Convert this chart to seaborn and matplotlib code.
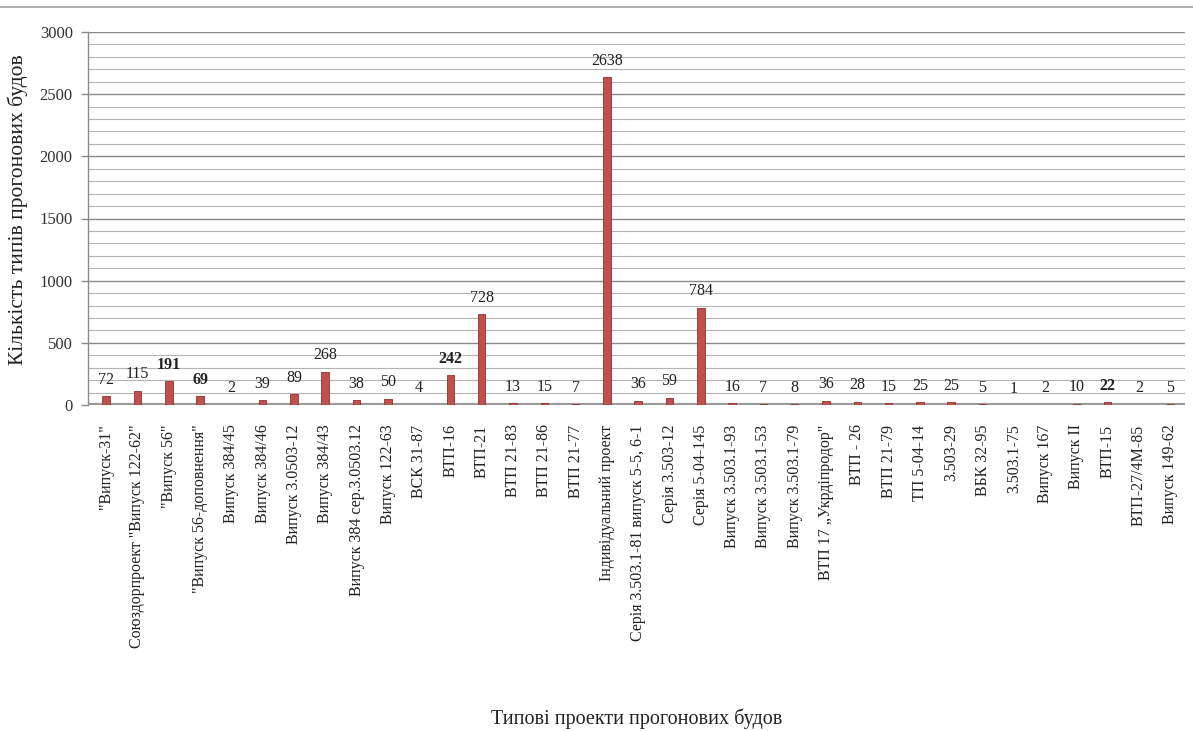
import matplotlib
matplotlib.use("Agg")
import matplotlib.pyplot as plt
import seaborn as sns
import numpy as np
from matplotlib.lines import Line2D

categories = [
    '"Випуск-31"', 'Союздорпроект "Випуск 122-62"', '"Випуск 56"', '"Випуск 56-доповнення"',
    'Випуск 384/45', 'Випуск 384/46', 'Випуск 3.0503-12', 'Випуск 384/43',
    'Випуск 384 сер.3.0503.12', 'Випуск 122-63', 'ВСК 31-87', 'ВТП-16', 'ВТП-21',
    'ВТП 21-83', 'ВТП 21-86', 'ВТП 21-77', 'Індивідуальний проект',
    'Серія 3.503.1-81 випуск 5-5, 6-1', 'Серія 3.503-12', 'Серія 5-04-145',
    'Випуск 3.503.1-93', 'Випуск 3.503.1-53', 'Випуск 3.503.1-79',
    'ВТП 17 „Укрдіпродор"', 'ВТП - 26', 'ВТП 21-79', 'ТП 5-04-14', '3.503-29',
    'ВБК 32-95', '3.503.1-75', 'Випуск 167', 'Випуск II', 'ВТП-15',
    'ВТП-27/4М-85', 'Випуск 149-62',
]
values = [72, 115, 191, 69, 2, 39, 89, 268, 38, 50, 4, 242, 728, 13, 15, 7, 2638,
          36, 59, 784, 16, 7, 8, 36, 28, 15, 25, 25, 5, 1, 2, 10, 22, 2, 5]
bold_labels = ['"Випуск 56"', '"Випуск 56-доповнення"', 'ВТП-16', 'ВТП-15']
yticks = [0, 500, 1000, 1500, 2000, 2500, 3000]

sns.set_theme(style="white")
plt.rcParams['font.family'] = ['Liberation Serif', 'DejaVu Serif']

fig = plt.figure(figsize=(11.93, 7.31), dpi=100)
ax = fig.add_axes([88/1193, 1-405/731, (1185-88)/1193, (405-32)/731])

# grid lines every 100
for v in range(100, 3001, 100):
    ax.axhline(v, color='#8a8a8a' if v % 500 == 0 else '#b4b4b4',
               lw=1.0 if v % 500 == 0 else 0.8, zorder=0)

sns.barplot(x=categories, y=values, color='#c0504d', width=0.24,
            edgecolor='#92302d', linewidth=0.6, saturation=1, ax=ax, zorder=3)

ax.axhline(0, color='#9a9a9a', lw=3, zorder=2)

cont = ax.containers[0]
texts = ax.bar_label(cont, labels=[str(v) for v in values], padding=6,
                     fontsize=11.5, color='#222222')
for t, c in zip(texts, categories):
    if c in bold_labels:
        t.set_fontweight('bold')

ax.set_ylim(0, 3000)
ax.set_xlim(-0.58, 34.47)
ax.set_yticks(yticks)
ax.set_yticklabels([str(v) for v in yticks], fontsize=12, color='#333333')
ax.set_xticks(range(len(categories)))
ax.set_xticklabels(categories, rotation=90, fontsize=11.5, color='#222222',
                   ha='center', va='top')
ax.tick_params(axis='x', length=0, pad=14)
ax.tick_params(axis='y', length=5, width=1, color='#8a8a8a', direction='out',
               left=True, pad=6)

for s in ['top', 'right', 'bottom']:
    ax.spines[s].set_visible(False)
ax.spines['left'].set_color('#8a8a8a')
ax.spines['left'].set_linewidth(1)

ax.set_xlabel('')
ax.set_ylabel('')
fig.text(18/1193, 1-210/731, 'Кількість типів прогонових будов', rotation=90,
         ha='center', va='center', fontsize=15.5, color='#222222')
fig.text(637/1193, 1-719/731, 'Типові проекти прогонових будов',
         ha='center', va='center', fontsize=14.5, color='#222222')

fig.add_artist(Line2D([0, 1], [1-7/731, 1-7/731], transform=fig.transFigure,
                      color='#a0a0a0', lw=1.2))

fig.savefig('out.png', dpi=100)
